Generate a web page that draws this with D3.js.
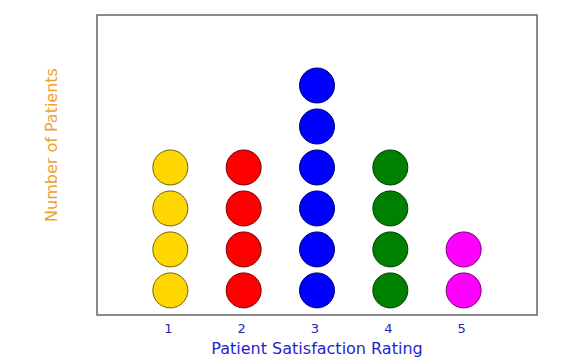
<!DOCTYPE html>
<html><head><meta charset="utf-8">
<script src="https://cdn.jsdelivr.net/npm/d3@7"></script>
<style>body{margin:0;background:#fff;}svg{display:block;font-family:"DejaVu Sans",Verdana,sans-serif;}</style>
</head><body>
<svg id="c" width="578" height="364"></svg>
<script>
const ratings = [1, 2, 3, 4, 5];
const counts = [4, 4, 6, 4, 2];
const colors = ["#ffd700", "#ff0000", "#0000ff", "#008000", "#ff00ff"];
const tickLabels = ["1", "2", "3", "4", "5"];
const xTitle = "Patient Satisfaction Rating";
const yTitle = "Number of Patients";

const svg = d3.select("#c");
const L = 97, R = 537, T = 15, B = 315;
const x = d3.scaleLinear().domain([0, 6]).range([L, R]);
const y = d3.scaleLinear().domain([0.4, 7.72]).range([B, T]);

const dots = [];
ratings.forEach((r, i) => {
  for (let k = 1; k <= counts[i]; k++) dots.push({r, k, c: colors[i]});
});

svg.selectAll("circle").data(dots).enter().append("circle")
  .attr("cx", d => x(d.r)).attr("cy", d => y(d.k)).attr("r", 17.5)
  .attr("fill", d => d.c)
  .attr("stroke", d => d3.color(d.c).darker(2.2))
  .attr("stroke-width", 1);

svg.append("rect").attr("x", L).attr("y", T).attr("width", R - L).attr("height", B - T)
  .attr("fill", "none").attr("stroke", "#666").attr("stroke-width", 1.5);

const ax = svg.append("g").attr("transform", `translate(-2.5,${B})`)
  .call(d3.axisBottom(x).tickValues(ratings).tickFormat((d, i) => tickLabels[i]).tickSize(0).tickPadding(9));
ax.select(".domain").remove();
ax.selectAll("text").attr("fill", "#2626b0").style("font-size", "13px").style("font-family", '"DejaVu Sans",Verdana,sans-serif');

svg.append("text").attr("x", 317).attr("y", 354).attr("text-anchor", "middle")
  .attr("fill", "#1f1fcc").style("font-size", "16px").text(xTitle);

svg.append("text").attr("transform", "translate(57,145) rotate(-90)").attr("text-anchor", "middle")
  .attr("fill", "#f0a030").style("font-size", "16px").text(yTitle);
</script>
</body></html>
